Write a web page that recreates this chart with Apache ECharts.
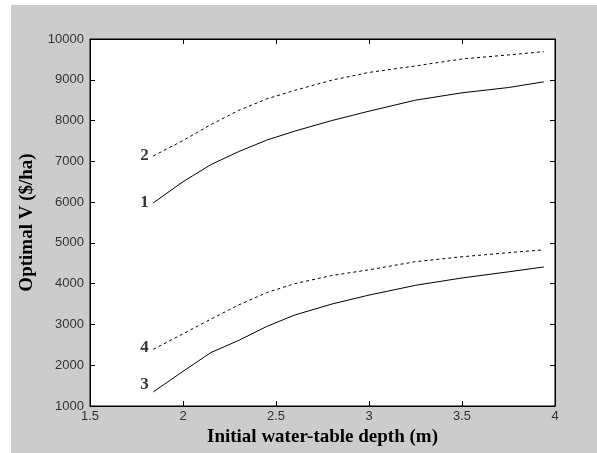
<!DOCTYPE html>
<html><head><meta charset="utf-8">
<script src="https://cdn.jsdelivr.net/npm/echarts@6/dist/echarts.min.js"></script>
<style>html,body{margin:0;padding:0;background:#fff}#c{width:597px;height:453px}</style>
</head><body><div id="c"></div>
<script>
const xValues = [1.84, 2.0, 2.15, 2.3, 2.45, 2.6, 2.8, 3.0, 3.25, 3.5, 3.75, 3.94];
const curve1 = [5980, 6500, 6920, 7240, 7520, 7740, 8000, 8230, 8500, 8680, 8810, 8950];
const curve2 = [7130, 7510, 7900, 8250, 8530, 8740, 8990, 9180, 9340, 9510, 9610, 9690];
const curve3 = [1345, 1850, 2310, 2610, 2950, 3230, 3500, 3720, 3960, 4140, 4290, 4410];
const curve4 = [2390, 2770, 3130, 3480, 3780, 4000, 4200, 4340, 4540, 4660, 4760, 4830];
const curveNames = ['1', '2', '3', '4'];
const xTitle = 'Initial water-table depth (m)';
const yTitle = 'Optimal V ($/ha)';

const chart = echarts.init(document.getElementById('c'));
const curves = [curve1, curve2, curve3, curve4];
const dashed = [false, true, false, true];
const labOffsets = [[0, 0], [0, 0], [0, -7], [0, -2]];
function mk(i) {
  return {
    name: curveNames[i], type: 'line', xAxisIndex: 0, yAxisIndex: 0,
    showSymbol: false, symbol: 'none', animation: false,
    lineStyle: { color: '#000', width: 1, type: dashed[i] ? [3, 3] : 'solid' },
    data: xValues.map((x, k) => [x, curves[i][k]])
  };
}
const labelSeries = {
  type: 'scatter', symbolSize: 1, itemStyle: { color: 'rgba(0,0,0,0)' }, silent: true,
  data: curves.map((c, i) => ({
    value: [xValues[0], c[0]],
    label: { show: true, position: 'left', distance: 4, offset: labOffsets[i], formatter: curveNames[i],
      fontFamily: 'Liberation Serif', fontWeight: 'bold', fontSize: 17, color: '#000' }
  }))
};
const tickStyle = { show: true, inside: true, length: 5, lineStyle: { color: '#000' } };
const axisLabelStyle = { color: '#333', fontFamily: 'Liberation Sans', fontSize: 13 };
chart.setOption({
  backgroundColor: '#fff',
  animation: false,
  graphic: [{ type: 'rect', z: -10, silent: true, shape: { x: 11, y: 5, width: 590, height: 452 }, style: { fill: '#cccccc' } }],
  grid: { left: 90, top: 39, right: 42, bottom: 47, show: true, backgroundColor: '#fff', borderColor: '#000', borderWidth: 1 },
  xAxis: [{
    type: 'value', min: 1.5, max: 4, interval: 0.5, position: 'bottom',
    axisLine: { show: true, onZero: false, lineStyle: { color: '#000' } },
    axisTick: tickStyle, splitLine: { show: false },
    axisLabel: Object.assign({ margin: 4, formatter: v => String(v) }, axisLabelStyle),
    name: xTitle, nameLocation: 'middle', nameGap: 22,
    nameTextStyle: { fontFamily: 'Liberation Serif', fontWeight: 'bold', fontSize: 19, color: '#000' }
  }, {
    type: 'value', min: 1.5, max: 4, interval: 0.5, position: 'top',
    axisLine: { show: true, onZero: false, lineStyle: { color: '#000' } },
    axisTick: tickStyle, splitLine: { show: false }, axisLabel: { show: false }
  }],
  yAxis: [{
    type: 'value', min: 1000, max: 10000, interval: 1000, position: 'left',
    axisLine: { show: true, onZero: false, lineStyle: { color: '#000' } },
    axisTick: tickStyle, splitLine: { show: false },
    axisLabel: Object.assign({ margin: 6, formatter: v => String(v) }, axisLabelStyle),
    name: yTitle, nameLocation: 'middle', nameGap: 42, nameRotate: 90,
    nameTextStyle: { fontFamily: 'Liberation Serif', fontWeight: 'bold', fontSize: 19, color: '#000' }
  }, {
    type: 'value', min: 1000, max: 10000, interval: 1000, position: 'right',
    axisLine: { show: true, onZero: false, lineStyle: { color: '#000' } },
    axisTick: tickStyle, splitLine: { show: false }, axisLabel: { show: false }
  }],
  series: [mk(0), mk(1), mk(2), mk(3), labelSeries]
});
</script></body></html>
